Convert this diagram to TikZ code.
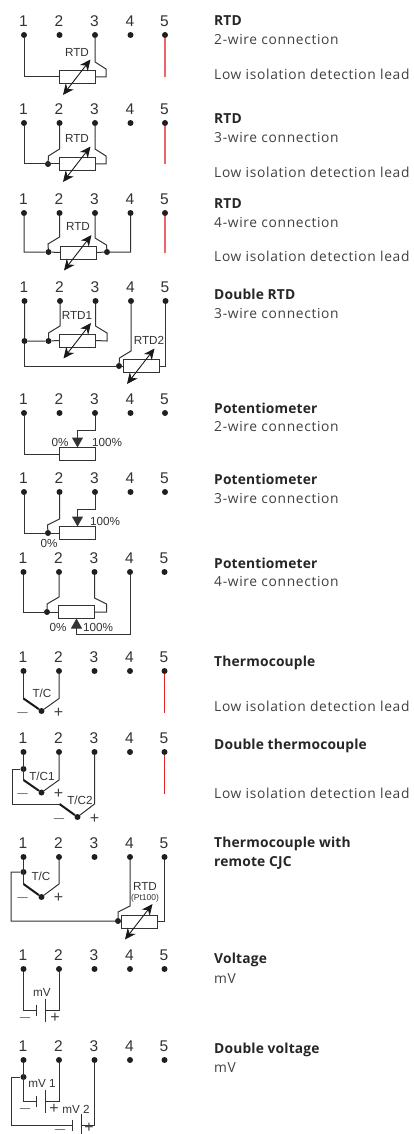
\documentclass[tikz,border=0pt]{standalone}
\usepackage{fontspec}
\setmainfont{Open Sans}[LetterSpace=4.8,BoldFeatures={LetterSpace=1.2}]
\newfontfamily\wiringfont{Liberation Sans}
\usetikzlibrary{arrows.meta,calc}
\definecolor{leadred}{HTML}{E2232A}
\tikzset{
point/.style = {circle, fill = black!88, inner sep = 0pt, minimum size = 6pt},
num/.style = {anchor=base, inner sep = 0pt, text=black!80, font=\wiringfont\fontsize{15.5}{16}\selectfont},
tag/.style = {inner sep = 0pt, text=black!80, font=\wiringfont\fontsize{11.7}{12}\selectfont},
tiny/.style = {inner sep = 0pt, text=black!80, font=\wiringfont\fontsize{8.5}{9}\selectfont},
sign/.style = {inner sep = 0pt, text=black!75, font=\wiringfont\fontsize{16}{16}\selectfont},
head/.style = {anchor=base west, inner sep = 0pt, text=black!85, font=\fontsize{13.8}{14}\selectfont\bfseries},
txt/.style = {anchor=base west, inner sep = 0pt, text=black!75, font=\fontsize{13.8}{14}\selectfont},
wire/.style = {draw=black!80, line width = 1pt},
hot/.style = {draw=black!90, line width = 2pt},
lead/.style = {draw=leadred, line width = 1pt},
palelead/.style = {draw=leadred!70!white, line width = 1.2pt},
rbox/.style = {draw=black!80, fill=white, line width = 1pt, inner sep = 0pt, outer sep = 0pt, minimum width = 36pt, minimum height = 13pt},
adj/.style = {draw=black!90, line width = 0.9pt, {Stealth[length=11pt,width=10pt]}-{Stealth[length=11pt,width=10pt]}},
wiper/.style = {wire, -{Triangle[length=10pt,width=11pt]}},
}
\newcommand{\sensorarrow}[1]{\draw[adj] ($(#1.center)+(13.5,-17.5)$)--($(#1.center)+(-14,18)$);}
\newcommand{\cellpair}[3]{
\coordinate (#1a) at (#2,#3);
\coordinate (#1b) at (#2+9,#3);
\draw[wire] ($(#1a)+(0,-5.5)$)--($(#1a)+(0,5.5)$);
\draw[wire] ($(#1b)+(0,-11.5)$)--($(#1b)+(0,11.5)$);
}
\begin{document}
\begin{tikzpicture}[x=1pt,y=-1pt]
\useasboundingbox (0,0) rectangle (413,1134);
\foreach \r/\y/\s in {a/35/-0.5,b/123/-0.5,c/213/-0.5,d/301/0,e/413/-0.5,f/492/-0.5,g/572/-1,h/671/-1,i/752/-1,j/857/-1,k/969/-1,l/1060/-1}{
\foreach \n/\x in {1/24.5,2/60,3/95.5,4/131,5/165.5}{
\node[point] (\r\n) at (\x+\s,\y) {};
\node[num] (\r\n-n) at (\x+\s-0.5,\y-8.5) {\n};
}}
\draw[palelead] (a5)--++(0,42);
\draw[palelead] (b5)--++(0,41);
\draw[palelead] (c5)--++(0,40);
\node[rbox] (aB) at (77,77) {};
\draw[wire] (a1)|-(aB.west);
\draw[wire] (a3)--++(0,27)--++(11,7)--++(0,8)--(aB.east);
\sensorarrow{aB}
\node[tag] (aT) at (77,52) {RTD};
\node[head] (aH) at (214,26) {RTD};
\node[txt] (aS) at (214,45) {2-wire connection};
\node[txt] (aL) at (214,80) {Low isolation detection lead};
\node[point] (bJ) at (48,164) {};
\node[rbox] (bB) at (77,164) {};
\draw[wire] (b1)|-(bB.west);
\draw[wire] (b2)--++(0,26)--++(-11,7)--(bJ);
\draw[wire] (b3)--++(0,26)--++(11,7)--++(0,8)--(bB.east);
\sensorarrow{bB}
\node[tag] (bT) at (77,138) {RTD};
\node[head] (bH) at (214,124) {RTD};
\node[txt] (bS) at (214,143) {3-wire connection};
\node[txt] (bL) at (214,178) {Low isolation detection lead};
\node[point] (cJ) at (48.5,252) {};
\node[point] (cK) at (107,252) {};
\node[rbox] (cB) at (78,252.5) {};
\draw[wire] (c1)|-(cJ)--(cB.west);
\draw[wire] (c2)--++(0,24)--++(-11.5,7)--(cJ);
\draw[wire] (c3)--++(0,25)--++(11.5,7)--(cK);
\draw[wire] (c4)|-(cK)--(cB.east);
\sensorarrow{cB}
\node[tag] (cT) at (78,226) {RTD};
\node[head] (cH) at (214,208) {RTD};
\node[txt] (cS) at (214,227) {4-wire connection};
\node[txt] (cL) at (214,261) {Low isolation detection lead};
\node[point] (dI) at (24.5,341) {};
\node[point] (dJ) at (48.5,341) {};
\node[point] (dK) at (119,366) {};
\node[rbox] (dB) at (77.5,340.5) {};
\node[rbox] (dC) at (141,366) {};
\draw[wire] (d1)--(dI)--(dJ)--(dB.west);
\draw[wire] (d2)--++(0,25)--++(-11.5,7)--(dJ);
\draw[wire] (d3)--++(0,25)--++(11.5,7)--++(0,8)--(dB.east);
\draw[wire] (dI)|-(dK)--(dC.west);
\draw[wire] (d4)--++(0,50)--++(-11.5,7)--(dK);
\draw[wire] (d5)|-(dC.east);
\sensorarrow{dB}
\sensorarrow{dC}
\node[tag] (dT) at (77,315) {RTD1};
\node[tag] (dU) at (149,340) {RTD2};
\node[head] (dH) at (214,299) {Double RTD};
\node[txt] (dS) at (214,318) {3-wire connection};
\node[rbox] (eB) at (77.5,454) {};
\draw[wire] (e1)|-(eB.west);
\draw[wiper] (e3)--++(0,17)-|(eB.north);
\node[tag] (eP) at (60,442) {0\%};
\node[tag] (eQ) at (107,442) {100\%};
\node[head] (eH) at (214,413) {Potentiometer};
\node[txt] (eS) at (214,431) {2-wire connection};
\node[point] (fJ) at (48,533) {};
\node[rbox] (fB) at (77.5,533) {};
\draw[wire] (f1)|-(fJ)--(fB.west);
\draw[wire] (f2)--++(0,27)--++(-12,6)--(fJ);
\draw[wiper] (f3)--++(0,17)-|(fB.north);
\node[tag] (fQ) at (105,521) {100\%};
\node[tag] (fP) at (49,543) {0\%};
\node[head] (fH) at (214,484) {Potentiometer};
\node[txt] (fS) at (214,503) {3-wire connection};
\node[point] (gJ) at (47,612) {};
\node[rbox] (gB) at (76.5,612) {};
\draw[wire] (g1)|-(gJ)--(gB.west);
\draw[wire] (g2)--++(0,25)--++(-12,7)--(gJ);
\draw[wire] (g3)--++(0,26)--++(12,6)--++(0,8)--(gB.east);
\draw[wiper] (g4)--++(0,62)-|(gB.south);
\node[tag] (gP) at (58,627) {0\%};
\node[tag] (gQ) at (98,627) {100\%};
\node[head] (gH) at (214,568) {Potentiometer};
\node[txt] (gS) at (214,586) {4-wire connection};
\node[point] (hV) at (41.5,711) {};
\coordinate (hL) at (23.5,698.5);
\coordinate (hR) at (59,698.5);
\draw[wire] (h1)--(hL);
\draw[hot] (hL)--(hV);
\draw[wire] (h2)--(hR)--(hV);
\node[tag] (hT) at (42,693.5) {T/C};
\node[sign] (hM) at (22.5,713) {$-$};
\node[sign] (hP) at (58.5,713) {+};
\draw[lead] (h5)--++(0,42);
\node[head] (hH) at (214,666) {Thermocouple};
\node[txt] (hW) at (214,711) {Low isolation detection lead};
\node[point] (iJ) at (23.5,769) {};
\node[point] (iV) at (41.5,792.5) {};
\node[point] (iX) at (77.5,817) {};
\coordinate (iL) at (23.5,780);
\coordinate (iR) at (59,780);
\coordinate (iM) at (59.5,804);
\coordinate (iN) at (94.5,804);
\draw[wire] (i1)--(iL);
\draw[hot] (iL)--(iV);
\draw[wire] (i2)--(iR)--(iV);
\draw[wire] (iJ)--++(-11,0)|-(iM);
\draw[hot] (iM)--(iX);
\draw[wire] (i3)--(iN)--(iX);
\node[tag] (iT) at (42,776) {T/C1};
\node[tag] (iU) at (80,800) {T/C2};
\node[sign] (iP) at (22.5,794) {$-$};
\node[sign] (iQ) at (58.5,794) {+};
\node[sign] (iS) at (59,819) {$-$};
\node[sign] (iY) at (94.5,819) {+};
\draw[lead] (i5)--++(0,42);
\node[head] (iH) at (214,749) {Double thermocouple};
\node[txt] (iW) at (214,798) {Low isolation detection lead};
\node[point] (jJ) at (23.5,872) {};
\node[point] (jV) at (41.5,897) {};
\node[point] (jK) at (118,921) {};
\node[rbox] (jB) at (139,921.5) {};
\coordinate (jL) at (23.5,884);
\coordinate (jR) at (59,884);
\draw[wire] (j1)--(jL);
\draw[hot] (jL)--(jV);
\draw[wire] (j2)--(jR)--(jV);
\draw[wire] (jJ)--++(-12.5,0)|-(jK)--(jB.west);
\draw[wire] (j4)--++(0,49)--++(-12,6)--(jK);
\draw[wire] (j5)|-(jB.east);
\sensorarrow{jB}
\node[tag] (jT) at (41,876) {T/C};
\node[tag] (jU) at (145,886) {RTD};
\node[tiny] (jY) at (145,898) {(Pt100)};
\node[sign] (jP) at (22.5,898) {$-$};
\node[sign] (jQ) at (58.5,898) {+};
\node[head] (jH) at (214,847) {Thermocouple with};
\node[head] (jI) at (214,866) {remote CJC};
\cellpair{kC}{36}{1010}
\draw[wire] (k1)|-(kCa);
\draw[wire] (k2)|-(kCb);
\node[tag] (kT) at (42,992) {mV};
\node[sign] (kP) at (25,1018) {$-$};
\node[sign] (kQ) at (55,1018) {+};
\node[head] (kH) at (214,963) {Voltage};
\node[txt] (kS) at (214,983) {mV};
\node[point] (lJ) at (23.5,1077) {};
\cellpair{lC}{36}{1101}
\cellpair{lD}{72}{1125}
\draw[wire] (l1)|-(lCa);
\draw[wire] (l2)|-(lCb);
\draw[wire] (lJ)--++(-12.5,0)|-(lDa);
\draw[wire] (l3)|-(lDb);
\node[tag] (lT) at (42,1083) {mV 1};
\node[tag] (lU) at (76,1109) {mV 2};
\node[sign] (lP) at (25,1109) {$-$};
\node[sign] (lQ) at (54,1109) {+};
\node[sign] (lS) at (60,1130) {$-$};
\node[sign] (lY) at (89,1128) {+};
\node[head] (lH) at (214,1053) {Double voltage};
\node[txt] (lW) at (214,1072) {mV};
\end{tikzpicture}
\end{document}
